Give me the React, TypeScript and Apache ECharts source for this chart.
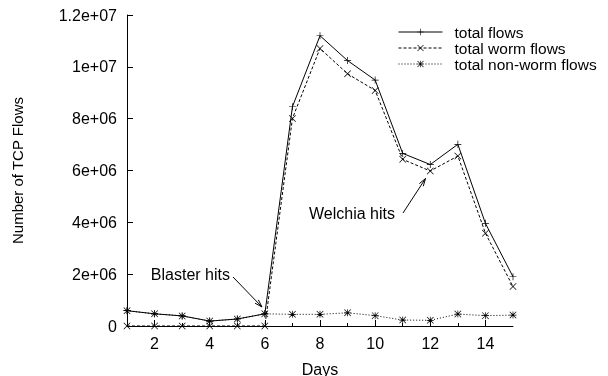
import React, { useEffect, useRef } from "react";
import * as echarts from "echarts";

const days = [1, 2, 3, 4, 5, 6, 7, 8, 9, 10, 11, 12, 13, 14, 15];
const totalFlows = [590000, 470000, 390000, 190000, 270000, 470000, 8460000, 11200000, 10240000, 9490000, 6660000, 6230000, 7010000, 3960000, 1900000];
const wormFlows = [0, 0, 0, 0, 0, 0, 8010000, 10710000, 9730000, 9090000, 6430000, 5980000, 6560000, 3580000, 1520000];
const nonWormFlows = [590000, 470000, 390000, 190000, 270000, 470000, 450000, 450000, 510000, 400000, 230000, 220000, 460000, 400000, 420000];
const xMajorTicks = [2, 4, 6, 8, 10, 12, 14];
const xMinorTicks = [3, 5, 7, 9, 11, 13];
const yTickValues = [0, 2000000, 4000000, 6000000, 8000000, 10000000, 12000000];
const yTickLabels = ["0", "2e+06", "4e+06", "6e+06", "8e+06", "1e+07", "1.2e+07"];
const seriesNames = ["total flows", "total worm flows", "total non-worm flows"];

const FONT = "'Liberation Sans', Arial, Helvetica, sans-serif";

const PLUS = "path://M4.5,0L5.5,0L5.5,4.5L10,4.5L10,5.5L5.5,5.5L5.5,10L4.5,10L4.5,5.5L0,5.5L0,4.5L4.5,4.5Z";
const CROSS = "path://M0,0.7L0.7,0L5,4.3L9.3,0L10,0.7L5.7,5L10,9.3L9.3,10L5,5.7L0.7,10L0,9.3L4.3,5Z";
const STAR = "path://M4.5,0L5.5,0L5.5,4.5L10,4.5L10,5.5L5.5,5.5L5.5,10L4.5,10L4.5,5.5L0,5.5L0,4.5L4.5,4.5Z M0,0.7L0.7,0L5,4.3L9.3,0L10,0.7L5.7,5L10,9.3L9.3,10L5,5.7L0.7,10L0,9.3L4.3,5Z";

function arrow(x1: number, y1: number, x2: number, y2: number) {
  const dx = x2 - x1, dy = y2 - y1;
  const len = Math.sqrt(dx * dx + dy * dy);
  const ux = dx / len, uy = dy / len;
  const hl = 8, ang = 0.3;
  const c = Math.cos(ang), s = Math.sin(ang);
  const p1 = [x2 - hl * (ux * c - uy * s), y2 - hl * (uy * c + ux * s)];
  const p2 = [x2 - hl * (ux * c + uy * s), y2 - hl * (uy * c - ux * s)];
  return [
    { type: "line", shape: { x1, y1, x2, y2 }, style: { stroke: "#000", lineWidth: 1 } },
    { type: "polyline", shape: { points: [p1, [x2, y2], p2] }, style: { stroke: "#000", lineWidth: 1, fill: "none" } },
  ];
}

export default function App() {
  const ref = useRef<HTMLDivElement>(null);
  useEffect(() => {
    if (!ref.current) return;
    const chart = echarts.init(ref.current, null, { renderer: "svg" });
    const pairs = (vals: number[]) => days.map((d, i) => [d, vals[i]]);
    const lineBase = {
      type: "line",
      symbolSize: 7,
      showSymbol: true,
      itemStyle: { color: "#000" },
      emphasis: { disabled: true },
    };
    chart.setOption({
      animation: false,
      textStyle: { fontFamily: FONT, color: "#000" },
      grid: { left: 127, right: 95, top: 15, bottom: 50, outerBoundsMode: "none", containLabel: false },
      legend: {
        orient: "vertical",
        left: 398,
        top: 24,
        padding: 0,
        itemWidth: 44,
        itemHeight: 8,
        itemGap: 0,
        data: seriesNames,
        lineStyle: { width: 1 },
        textStyle: { fontFamily: FONT, fontSize: 15.5, color: "#000", lineHeight: 13.3, padding: [0, 0, 0, 7] },
      },
      xAxis: [
        {
          type: "value",
          min: 1,
          max: 15,
          interval: 1,
          name: "Days",
          nameLocation: "middle",
          nameGap: 35,
          nameTextStyle: { fontFamily: FONT, fontSize: 16, color: "#000" },
          axisLine: { show: true, lineStyle: { color: "#000", width: 1 } },
          axisTick: { show: true, inside: true, length: 6, customValues: xMajorTicks, lineStyle: { color: "#000" } },
          axisLabel: { customValues: xMajorTicks, fontFamily: FONT, fontSize: 16, color: "#000", margin: 9, formatter: (v: number) => String(v) },
          splitLine: { show: false },
        },
        {
          type: "value",
          min: 1,
          max: 15,
          interval: 1,
          position: "bottom",
          axisLine: { show: false },
          axisTick: { show: true, inside: true, length: 3, customValues: xMinorTicks, lineStyle: { color: "#000" } },
          axisLabel: { show: false },
          splitLine: { show: false },
        },
      ],
      yAxis: {
        type: "value",
        min: 0,
        max: 12000000,
        interval: 2000000,
        name: "Number of TCP Flows",
        nameLocation: "middle",
        nameRotate: 90,
        nameGap: 102,
        nameTextStyle: { fontFamily: FONT, fontSize: 15, color: "#000" },
        axisLine: { show: true, lineStyle: { color: "#000", width: 1 } },
        axisTick: { show: true, inside: true, length: 6, lineStyle: { color: "#000" } },
        axisLabel: {
          fontFamily: FONT,
          fontSize: 16,
          color: "#000",
          margin: 10,
          formatter: (v: number) => {
            const i = yTickValues.indexOf(v);
            return i >= 0 ? yTickLabels[i] : "";
          },
        },
        splitLine: { show: false },
      },
      series: [
        {
          ...lineBase,
          name: seriesNames[0],
          data: pairs(totalFlows),
          symbol: PLUS,
          lineStyle: { color: "#000", width: 1, type: "solid" },
          z: 3,
        },
        {
          ...lineBase,
          name: seriesNames[1],
          data: pairs(wormFlows),
          symbol: CROSS,
          lineStyle: { color: "#000", width: 1, type: [3, 2] },
          z: 2,
        },
        {
          ...lineBase,
          name: seriesNames[2],
          data: pairs(nonWormFlows),
          symbol: STAR,
          lineStyle: { color: "#000", width: 1, type: [1, 2] },
          z: 2,
        },
      ],
      graphic: [
        { type: "text", x: 230, y: 274, style: { text: "Blaster hits", fill: "#000", font: `16px ${FONT}`, align: "right", verticalAlign: "middle" } },
        ...arrow(233, 277, 262, 307),
        { type: "text", x: 395, y: 213, style: { text: "Welchia hits", fill: "#000", font: `16px ${FONT}`, align: "right", verticalAlign: "middle" } },
        ...arrow(403, 213, 425.5, 178.5),
      ],
    });
    return () => chart.dispose();
  }, []);
  return <div ref={ref} style={{ position: "fixed", left: 0, top: 0, width: 608, height: 376 }} />;
}
